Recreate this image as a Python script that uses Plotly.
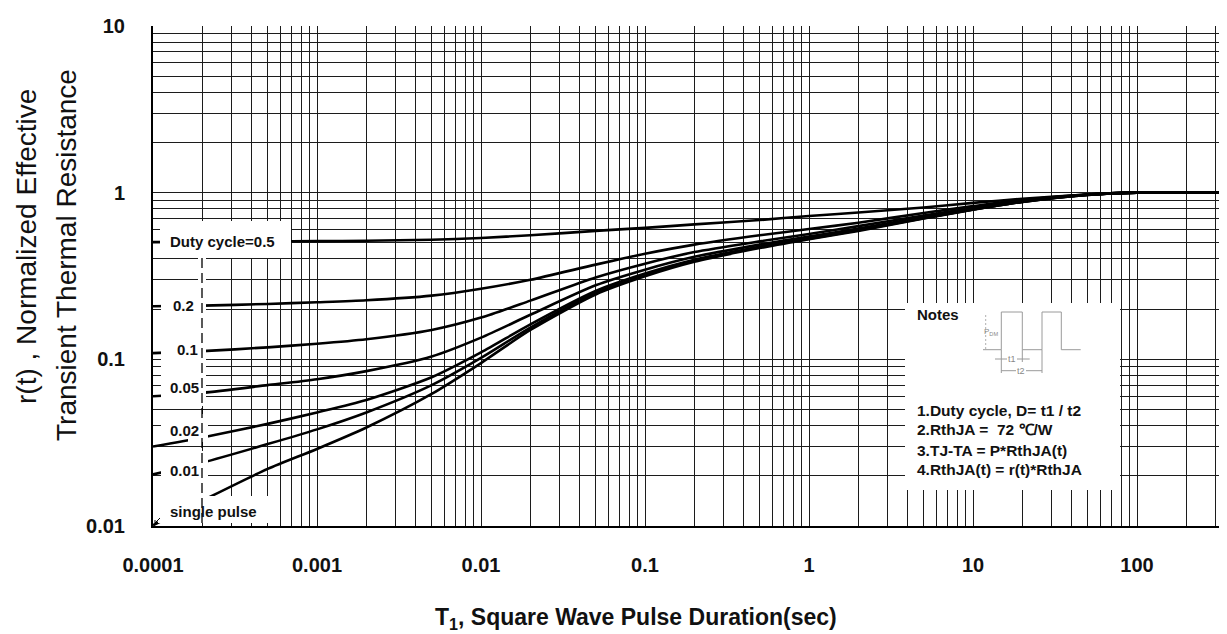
import plotly.graph_objects as go

# ---------------- data ----------------
pulse_t = [1e-4, 2e-4, 5e-4, 1e-3, 2e-3, 5e-3, 1e-2, 2e-2, 5e-2, 0.1, 0.2, 0.5,
           1, 2, 5, 10, 20, 50, 100, 400]

r_d05 = [0.505, 0.507, 0.510, 0.512, 0.515, 0.522, 0.535, 0.555, 0.590, 0.615, 0.645,
         0.685, 0.725, 0.760, 0.815, 0.868, 0.920, 0.975, 1.0, 1.0]
r_d02 = [0.208, 0.210, 0.215, 0.220, 0.226, 0.241, 0.265, 0.300, 0.370, 0.430, 0.488,
         0.555, 0.605, 0.660, 0.755, 0.830, 0.905, 0.976, 1.0, 1.0]
r_d01 = [0.109, 0.112, 0.118, 0.124, 0.132, 0.150, 0.178, 0.225, 0.310, 0.375, 0.440,
         0.510, 0.565, 0.630, 0.730, 0.810, 0.892, 0.973, 1.0, 1.0]
r_d005 = [0.060, 0.063, 0.070, 0.076, 0.085, 0.104, 0.135, 0.185, 0.278, 0.345, 0.412,
          0.488, 0.545, 0.610, 0.715, 0.800, 0.886, 0.972, 1.0, 1.0]
r_d002 = [0.030, 0.034, 0.041, 0.048, 0.057, 0.078, 0.110, 0.162, 0.257, 0.327, 0.396,
          0.474, 0.533, 0.600, 0.706, 0.794, 0.882, 0.971, 1.0, 1.0]
r_d001 = [0.0204, 0.024, 0.031, 0.038, 0.048, 0.070, 0.102, 0.155, 0.250, 0.320, 0.390,
          0.470, 0.530, 0.595, 0.703, 0.792, 0.881, 0.970, 1.0, 1.0]
r_single = [0.0101, 0.0142, 0.0220, 0.0290, 0.039, 0.062, 0.095, 0.150, 0.245, 0.315,
            0.385, 0.465, 0.525, 0.590, 0.700, 0.790, 0.880, 0.970, 1.0, 1.0]

series = [("Duty cycle=0.5", r_d05), ("0.2", r_d02), ("0.1", r_d01), ("0.05", r_d005),
          ("0.02", r_d002), ("0.01", r_d001), ("single pulse", r_single)]

x_tick_vals = [1e-4, 1e-3, 1e-2, 1e-1, 1, 10, 100]
x_tick_text = ["0.0001", "0.001", "0.01", "0.1", "1", "10", "100"]
y_tick_vals = [0.01, 0.1, 1, 10]
y_tick_text = ["0.01", "0.1", "1", "10"]

notes_lines = ["1.Duty cycle, D= t1 / t2",
               "2.RthJA =\u00a0 72 \u2103/W",
               "3.TJ-TA = P*RthJA(t)",
               "4.RthJA(t) = r(t)*RthJA"]

# ---------------- layout geometry ----------------
W, H = 1227, 634
L, R, T, B = 145, 0, 18, 116
PW, PH = W - L - R, H - T - B


def px(x):
    return (x - L) / PW


def py(y):
    return 1 - (y - T) / PH


FONT = "Liberation Sans, Arial, sans-serif"
GRID = "#1c1c1c"
TXT = "#111111"

minor_x = [m * 10.0 ** e for e in range(-4, 3) for m in range(2, 10)]
minor_y = [m * 10.0 ** e for e in range(-2, 1) for m in range(2, 10)]

fig = go.Figure()
for name, vals in series:
    fig.add_trace(go.Scatter(x=pulse_t, y=vals, mode="lines", name=name,
                             line=dict(color="black", width=2.6, shape="spline", smoothing=0.7),
                             showlegend=False, hoverinfo="skip"))

shapes = []


def wrect(x0, y0, x1, y1):
    shapes.append(dict(type="rect", xref="paper", yref="paper", layer="above",
                       x0=px(x0), x1=px(x1), y0=py(y1), y1=py(y0),
                       fillcolor="white", line=dict(width=0)))


def gline(x0, y0, x1, y1, color="#9a9a9a", width=1, dash=None):
    d = dict(type="line", xref="paper", yref="paper", layer="above",
             x0=px(x0), x1=px(x1), y0=py(y0), y1=py(y1),
             line=dict(color=color, width=width))
    if dash:
        d["line"]["dash"] = dash
    shapes.append(d)


# left-column label boxes
wrect(152, 213, 283, 250)     # Duty cycle=0.5
wrect(153, 276, 198, 398)     # 0.2 / 0.1 / 0.05
wrect(180, 406, 200, 434)     # 0.02
wrect(153, 406, 180, 431)
wrect(153, 443, 200, 488)     # 0.01
wrect(150, 488, 268, 515)     # single pulse
wrect(190, 250, 198, 276)
gline(194, 250, 194, 515, color="black", width=1.3, dash="10px,5px")
# small corner arrow next to "single pulse"
gline(152, 510, 147, 515, color="black", width=1)
gline(147, 515, 147, 512, color="black", width=1)
gline(147, 515, 150, 515, color="black", width=1)

# notes box
wrect(897, 295, 1112, 482)
# pulse waveform
wave_x = [975, 993.3, 993.3, 1014.3, 1014.3, 1034, 1034, 1053.3, 1053.3, 1072.7]
wave_y = [341.7, 341.7, 304, 304, 341.7, 341.7, 304, 304, 341.7, 341.7]
for i in range(len(wave_x) - 1):
    gline(wave_x[i], wave_y[i], wave_x[i + 1], wave_y[i + 1])
gline(977.7, 307, 977.7, 341, width=0.8, dash="2px,2px")
gline(993.3, 341.7, 993.3, 365)
gline(1014.3, 341.7, 1014.3, 354)
gline(1034, 341.7, 1034, 365)
gline(987, 351, 999, 351)
gline(1009, 351, 1021.7, 351)
gline(993.3, 362.7, 1008, 362.7)
gline(1018, 362.7, 1034, 362.7)

ann = []


def label(x, y, text, size=15, bold=True, color=TXT, xanchor="left", angle=0):
    ann.append(dict(xref="paper", yref="paper", x=px(x), y=py(y), text=("<b>%s</b>" % text) if bold else text,
                    showarrow=False, xanchor=xanchor, yanchor="middle", textangle=angle,
                    font=dict(family=FONT, size=size, color=color)))


label(160, 234, "Duty cycle=0.5")
label(163, 297.3, "0.2")
label(167, 341, "0.1")
label(160, 379, "0.05")
label(160, 422.7, "0.02")
label(160, 462.7, "0.01")
label(160, 503.3, "single pulse")

label(907, 306, "Notes", size=15)
label(983, 324, "P<sub>DM</sub>", size=8, bold=False, color="#888", xanchor="center")
label(1004, 351, "t1", size=9, bold=False, color="#888", xanchor="center")
label(1013, 362.7, "t2", size=9, bold=False, color="#888", xanchor="center")
for yy, txt in zip([402.7, 421.7, 442.7, 461.7], notes_lines):
    label(906.7, yy, txt, size=15.5)

# axis titles
label(19, 239, "r(t) , Normalized Effective", size=28, bold=False, xanchor="center", angle=-90)
label(59, 247, "Transient Thermal Resistance", size=28, bold=False, xanchor="center", angle=-90)
label(628, 610, "T<sub>1</sub>, Square Wave Pulse Duration(sec)", size=23, xanchor="center")

fig.update_layout(
    width=W, height=H, margin=dict(l=L, r=R, t=T, b=B, pad=0),
    paper_bgcolor="white", plot_bgcolor="white",
    shapes=shapes, annotations=ann, showlegend=False,
    xaxis=dict(type="log", range=[-4, -4 + PW / 164.0], showgrid=True, gridcolor=GRID, gridwidth=1.3,
               tickvals=x_tick_vals, ticktext=["<b>%s</b>" % s for s in x_tick_text],
               tickfont=dict(family=FONT, size=20, color=TXT), ticks="",
               ticklabelstandoff=20, automargin=False,
               showline=True, linecolor="black", linewidth=2, mirror=False,
               minor=dict(tickvals=minor_x, showgrid=True, gridcolor=GRID, gridwidth=1.3, ticks="")),
    yaxis=dict(type="log", range=[-2, 1], showgrid=True, gridcolor=GRID, gridwidth=1.3,
               tickvals=y_tick_vals, ticktext=["<b>%s</b>" % s for s in y_tick_text],
               tickfont=dict(family=FONT, size=20, color=TXT), ticks="",
               ticklabelstandoff=22, automargin=False,
               showline=True, linecolor="black", linewidth=2,
               minor=dict(tickvals=minor_y, showgrid=True, gridcolor=GRID, gridwidth=1.3, ticks="")),
)

fig.write_html("out.html")
